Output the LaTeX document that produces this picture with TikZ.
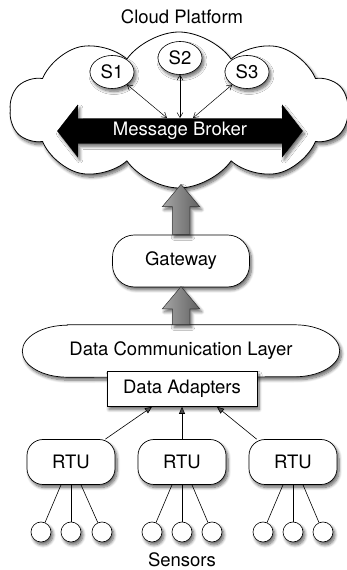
\documentclass[tikz,border=0pt]{standalone}
\usepackage{fontspec}
\setmainfont{TeX Gyre Heros}
\usetikzlibrary{arrows.meta,shapes.geometric,shapes.symbols,shapes.arrows,shadows.blur}

\begin{document}
\begin{tikzpicture}[x=1pt,y=1pt,
  every node/.style={font=\fontsize{18.5}{20}\selectfont, inner sep=0pt},
  shad/.style={blur shadow={shadow xshift=2pt, shadow yshift=-3pt, shadow blur steps=8, shadow blur radius=3pt, shadow opacity=60}},
  svc/.style={ellipse, draw, fill=white, line width=0.6pt, minimum width=44pt, minimum height=33pt, shad},
  rbox/.style={draw, fill=white, line width=0.7pt, rounded corners=16pt, shad},
  sensor/.style={circle, draw, fill=white, line width=0.6pt, minimum size=20pt, shad},
  uparrow/.style={single arrow, rotate=90, draw=black!80, line width=0.5pt, left color=black!35, right color=black!62, inner sep=8.5pt, single arrow head extend=10pt, single arrow tip angle=80, anchor=tail, shad},
  link/.style={line width=0.6pt},
  svclink/.style={line width=0.5pt, {Straight Barb[length=5pt,width=6pt]}-{Straight Barb[length=5pt,width=6pt]}},
  feed/.style={line width=0.6pt, -{Triangle[length=7pt,width=6pt]}}]
\useasboundingbox (0,0) rectangle (346,570);
\node (title) at (182,553) {Cloud Platform};
\node[cloud, draw, fill=white, line width=0.8pt, cloud puffs=10, cloud puff arc=110, aspect=2.1, minimum width=338pt, minimum height=156pt, shad] (cloud) at (179,460) {};
\node[svc] (s1) at (112,498) {S1};
\node[svc] (s2) at (180,512) {S2};
\node[svc] (s3) at (247,498) {S3};
\node[double arrow, fill=black, draw=black, text=white, inner xsep=4pt, inner ysep=3.5pt, minimum height=245pt, double arrow head extend=13.5pt, double arrow tip angle=104, shad] (mb) at (180,439) {Message Broker};
\draw[svclink] (s1) -- ([shift={(-13,13)}]mb.center);
\draw[svclink] (s2) -- ([shift={(0,13)}]mb.center);
\draw[svclink] (s3) -- ([shift={(13,13)}]mb.center);
\node[rbox, minimum width=137pt, minimum height=52pt, rounded corners=22pt] (gw) at (181,309) {Gateway};
\node[minimum width=317pt, minimum height=52pt] (dcl) at (181,219) {};
\draw[line width=0.7pt, fill=white, shad] ([xshift=45pt]dcl.north west) -- ([xshift=-45pt]dcl.north east) arc[start angle=90, end angle=-90, x radius=45pt, y radius=26pt] -- ([xshift=45pt]dcl.south west) arc[start angle=270, end angle=90, x radius=45pt, y radius=26pt] -- cycle;
\node (dcltext) at (dcl.center) {Data Communication Layer};
\node[uparrow, minimum height=50pt] (up1) at (gw.north) {};
\node[uparrow, minimum height=38pt] (up2) at (dcl.north) {};
\node[draw, fill=white, line width=0.7pt, minimum width=150pt, minimum height=35pt, shad] (da) at (182,181) {Data Adapters};
\node[rbox, minimum width=88pt, minimum height=45pt] (rtu1) at (71,108) {RTU};
\node[rbox, minimum width=88pt, minimum height=45pt] (rtu2) at (182,108) {RTU};
\node[rbox, minimum width=88pt, minimum height=45pt] (rtu3) at (293,108) {RTU};
\draw[feed] ([xshift=-10pt]rtu1.north east) -- ([xshift=-30pt]da.south);
\draw[feed] (rtu2) -- (da);
\draw[feed] ([xshift=8pt]rtu3.north west) -- ([xshift=35pt]da.south);
\node[sensor] (sn11) at (41,38) {};
\node[sensor] (sn12) at (71,38) {};
\node[sensor] (sn13) at (102,38) {};
\node[sensor] (sn21) at (152,38) {};
\node[sensor] (sn22) at (182,38) {};
\node[sensor] (sn23) at (212,38) {};
\node[sensor] (sn31) at (263,38) {};
\node[sensor] (sn32) at (293,38) {};
\node[sensor] (sn33) at (323,38) {};
\draw[link] ([xshift=-10pt]rtu1.south) -- (sn11);
\draw[link] (rtu1) -- (sn12);
\draw[link] ([xshift=10pt]rtu1.south) -- (sn13);
\draw[link] ([xshift=-10pt]rtu2.south) -- (sn21);
\draw[link] (rtu2) -- (sn22);
\draw[link] ([xshift=10pt]rtu2.south) -- (sn23);
\draw[link] ([xshift=-10pt]rtu3.south) -- (sn31);
\draw[link] (rtu3) -- (sn32);
\draw[link] ([xshift=10pt]rtu3.south) -- (sn33);
\node (sens) at (182,10) {Sensors};
\end{tikzpicture}
\end{document}
